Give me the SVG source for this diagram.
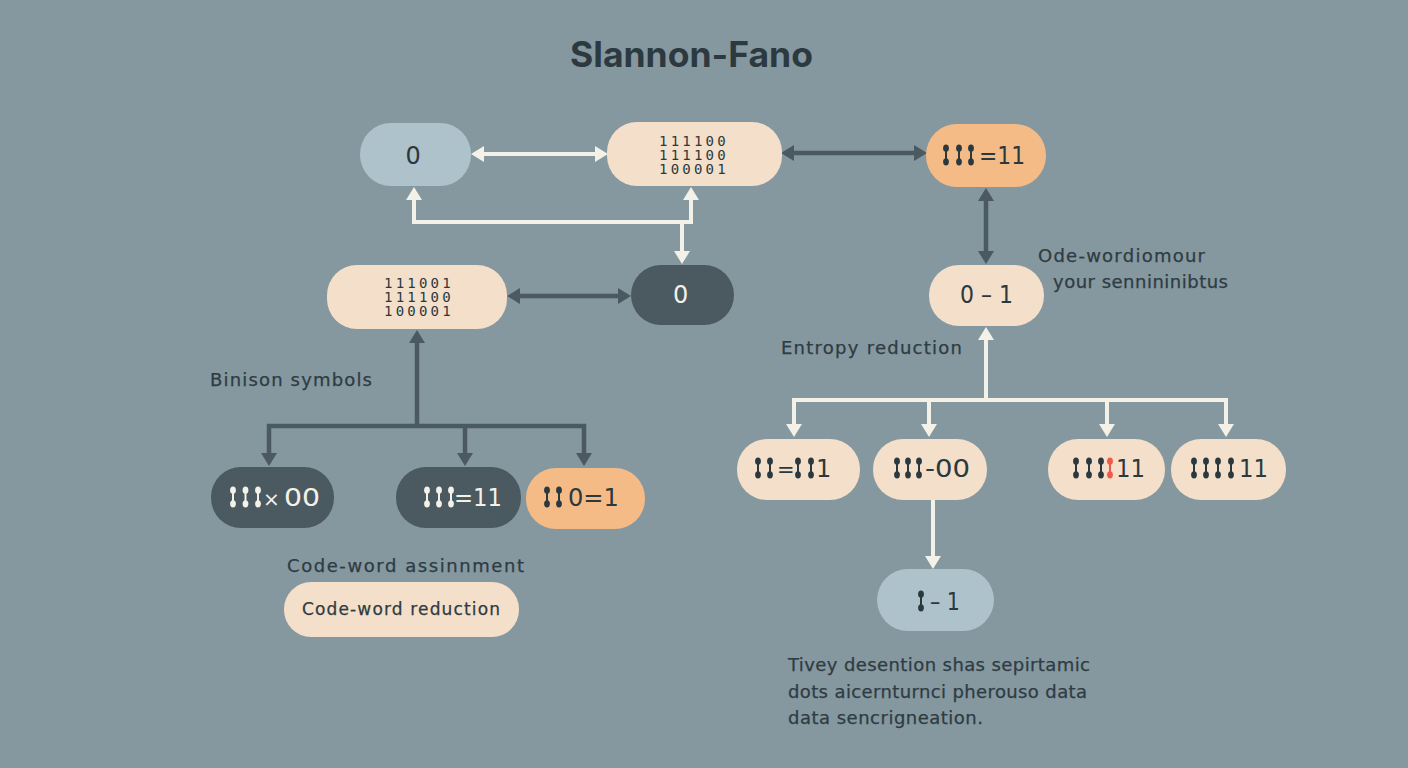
<svg xmlns="http://www.w3.org/2000/svg" width="1408" height="768" viewBox="0 0 1408 768">
<style>
text{font-family:"DejaVu Sans",sans-serif;text-anchor:start}
.title{font-size:35px;font-weight:700;fill:#2c3a40;font-family:"Inter","Open Sans",sans-serif}
.lab{font-size:18px;fill:#2e3c43;stroke:#2e3c43;stroke-width:.25}
.big{font-size:24px;fill:#2b393e}
.lt{fill:#f3f1e8}
.mono{font-family:"DejaVu Sans Mono",monospace;font-size:14px;fill:#2b393e;letter-spacing:3.2px}
.peach{fill:#f3dfca}.blue{fill:#aec2cb}.dark{fill:#4b5961}.orange{fill:#f5bb87}
.cl{fill:none;stroke:#f3f1e8;stroke-width:4}
.cd{fill:none;stroke:#4b5961;stroke-width:4.500}
.ah{fill:#f3f1e8}.ahd{fill:#4b5961}
.di{fill:#2b393e}.dl{fill:#f3f1e8}.dr{fill:#f05a46}
</style>
<defs>
<g id="db"><rect x="-1" y="-9" width="2" height="18"/><ellipse cx="0" cy="-6.800" rx="2.900" ry="3.600"/><ellipse cx="0" cy="6.800" rx="2.900" ry="3.600"/></g>
<marker id="ml" viewBox="0 0 13 16" refX="9" refY="8" markerWidth="13" markerHeight="16" markerUnits="userSpaceOnUse" orient="auto-start-reverse"><path class="ah" d="M0 0L13 8L0 16z"/></marker>
<marker id="md" viewBox="0 0 13 16" refX="9" refY="8" markerWidth="13" markerHeight="16" markerUnits="userSpaceOnUse" orient="auto-start-reverse"><path class="ahd" d="M0 0L13 8L0 16z"/></marker>
</defs>
<rect width="1408" height="768" fill="#85979f"/>
<text id="title" class="title" x="570" y="67" textLength="243" lengthAdjust="spacingAndGlyphs">Slannon-Fano</text>

<g id="connectors">
<path class="cl" d="M475 154H604" marker-start="url(#ml)" marker-end="url(#ml)"/>
<path class="cl" d="M414 191V222H691V191" marker-start="url(#ml)" marker-end="url(#ml)"/>
<path class="cl" d="M682 222V260" marker-end="url(#ml)"/>
<path class="cd" d="M511 296H627" marker-start="url(#md)" marker-end="url(#md)"/>
<path class="cd" d="M785 153H923" marker-start="url(#md)" marker-end="url(#md)"/>
<path class="cd" d="M986 192V260" marker-start="url(#md)" marker-end="url(#md)"/>
<path class="cd" d="M417 334V426" marker-start="url(#md)"/>
<path class="cd" d="M269 462V426H584V462" marker-start="url(#md)" marker-end="url(#md)"/>
<path class="cd" d="M465 426V462" marker-end="url(#md)"/>
<path class="cl" d="M986 331V400" marker-start="url(#ml)"/>
<path class="cl" d="M794 433V400H1226V433" marker-start="url(#ml)" marker-end="url(#ml)"/>
<path class="cl" d="M929 400V433" marker-end="url(#ml)"/>
<path class="cl" d="M1107 400V433" marker-end="url(#ml)"/>
<path class="cl" d="M933 500V565" marker-end="url(#ml)"/>
</g>

<g id="n-zero-top"><rect class="blue" x="360" y="123" width="111" height="63" rx="31"/><text class="big" x="405.500" y="164">0</text></g>
<g id="n-matrix-top"><rect class="peach" x="607" y="122" width="175" height="64" rx="30"/>
<text class="mono" x="659" y="146">111100</text><text class="mono" x="659" y="160">111100</text><text class="mono" x="659" y="174">100001</text></g>
<g id="n-orange-top"><rect class="orange" x="926" y="124" width="120" height="63" rx="31"/>
<use href="#db" x="946" y="155" class="di"/><use href="#db" x="959" y="155" class="di"/><use href="#db" x="971" y="155" class="di"/>
<text class="big" x="979" y="164" textLength="46" lengthAdjust="spacingAndGlyphs">=11</text></g>
<g id="n-zero-1"><rect class="peach" x="929" y="265" width="115" height="61" rx="30"/><text class="big" x="960" y="303" textLength="53" lengthAdjust="spacingAndGlyphs">0 – 1</text></g>
<g id="n-matrix-left"><rect class="peach" x="327" y="265" width="180" height="64" rx="30"/>
<text class="mono" x="384" y="288">111001</text><text class="mono" x="384" y="302">111100</text><text class="mono" x="384" y="316">100001</text></g>
<g id="n-zero-dark"><rect class="dark" x="631" y="265" width="103" height="60" rx="30"/><text class="big lt" x="673" y="303">0</text></g>

<g id="n-a"><rect class="dark" x="211" y="467" width="123" height="61" rx="30"/>
<use href="#db" x="233" y="497" class="dl"/><use href="#db" x="245.500" y="497" class="dl"/><use href="#db" x="258" y="497" class="dl"/>
<text class="big lt" x="263" y="506" style="font-size:20px">×</text><text class="big lt" x="284" y="506" textLength="36" lengthAdjust="spacingAndGlyphs">00</text></g>
<g id="n-b"><rect class="dark" x="396" y="467" width="125" height="61" rx="30"/>
<use href="#db" x="427" y="497" class="dl"/><use href="#db" x="439" y="497" class="dl"/><use href="#db" x="451" y="497" class="dl"/>
<text class="big lt" x="454" y="506" textLength="48" lengthAdjust="spacingAndGlyphs">=11</text></g>
<g id="n-c"><rect class="orange" x="526" y="468" width="119" height="61" rx="30"/>
<use href="#db" x="547" y="497" class="di"/><use href="#db" x="559" y="497" class="di"/>
<text class="big" x="568" y="506" textLength="51" lengthAdjust="spacingAndGlyphs">0=1</text></g>

<g id="n-d"><rect class="peach" x="737" y="439" width="123" height="61" rx="30"/>
<use href="#db" x="758" y="468" class="di"/><use href="#db" x="770" y="468" class="di"/><use href="#db" x="798" y="468" class="di"/><use href="#db" x="811" y="468" class="di"/>
<text class="big" x="777" y="477" style="font-size:21px">=</text><text class="big" x="816" y="477">1</text></g>
<g id="n-e"><rect class="peach" x="873" y="439" width="114" height="61" rx="30"/>
<use href="#db" x="897" y="468" class="di"/><use href="#db" x="908" y="468" class="di"/><use href="#db" x="919" y="468" class="di"/>
<text class="big" x="925" y="477" textLength="45" lengthAdjust="spacingAndGlyphs">-00</text></g>
<g id="n-f"><rect class="peach" x="1048" y="439" width="117" height="61" rx="30"/>
<use href="#db" x="1076" y="468" class="di"/><use href="#db" x="1089" y="468" class="di"/><use href="#db" x="1101" y="468" class="di"/><use href="#db" x="1110" y="468" class="dr"/>
<text class="big" x="1116" y="477" textLength="29" lengthAdjust="spacingAndGlyphs">11</text></g>
<g id="n-g"><rect class="peach" x="1171" y="439" width="115" height="61" rx="30"/>
<use href="#db" x="1194" y="468" class="di"/><use href="#db" x="1206" y="468" class="di"/><use href="#db" x="1218" y="468" class="di"/><use href="#db" x="1231" y="468" class="di"/>
<text class="big" x="1239" y="477" textLength="29" lengthAdjust="spacingAndGlyphs">11</text></g>
<g id="n-h"><rect class="blue" x="877" y="569" width="117" height="62" rx="31"/>
<use href="#db" x="921" y="601" class="di"/><text class="big" x="930" y="610" textLength="30" lengthAdjust="spacingAndGlyphs">– 1</text></g>
<g id="n-reduction"><rect class="peach" x="284" y="582" width="235" height="55" rx="27"/><text class="lab" x="302" y="615" style="font-size:17px" textLength="198">Code-word reduction</text></g>

<g id="labels">
<text class="lab" x="210" y="386" textLength="162">Binison symbols</text>
<text class="lab" x="287" y="572" textLength="237">Code-word assinnment</text>
<text class="lab" x="781" y="354" textLength="181">Entropy reduction</text>
<text class="lab" x="1038" y="262" textLength="167">Ode-wordiomour</text>
<text class="lab" x="1053" y="288" textLength="175">your sennininibtus</text>
<text class="lab" x="788" y="671" textLength="302">Tivey  desention shas sepirtamic</text>
<text class="lab" x="788" y="698" textLength="299">dots aicernturnci pherouso data</text>
<text class="lab" x="788" y="724" textLength="195">data sencrigneation.</text>
</g>
</svg>
